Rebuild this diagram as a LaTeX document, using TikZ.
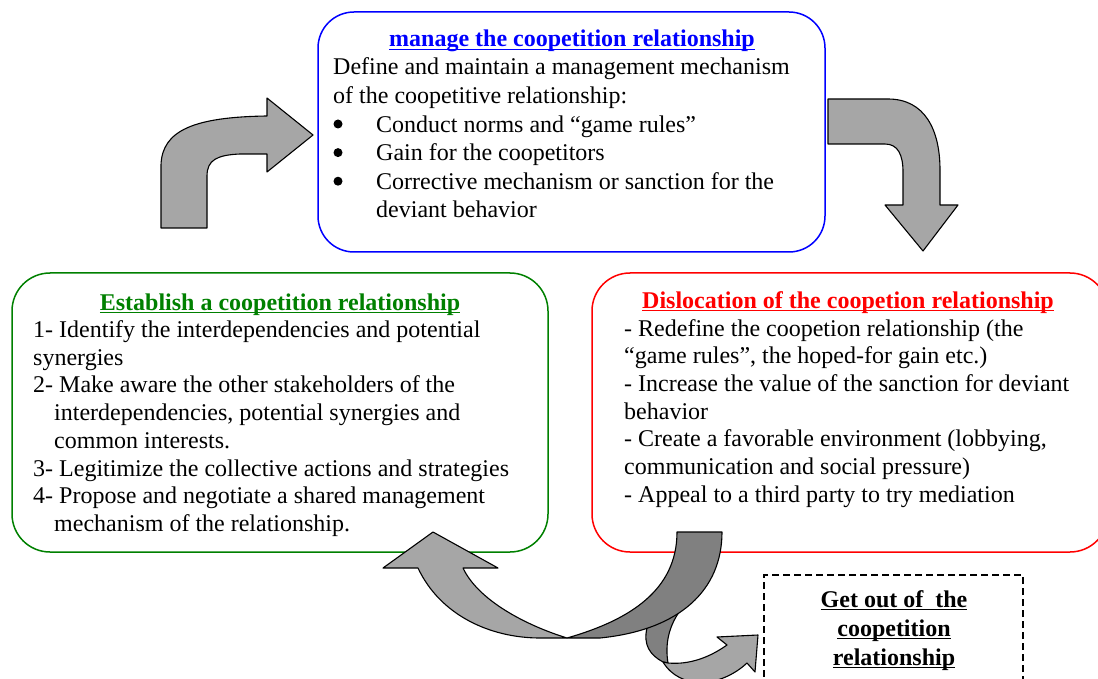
\documentclass[tikz,border=0pt]{standalone}
\usepackage{fontspec}
\setmainfont{Liberation Serif}
\newcommand\myul[1]{\mbox{\setbox0=\hbox{#1}\rlap{\rule[-3.4pt]{\wd0}{1.8pt}}\box0}}
\definecolor{mygreen}{RGB}{0,128,0}
\begin{document}
\begin{tikzpicture}[x=1pt,y=-1pt,
  font=\fontsize{24}{28}\selectfont,
  box/.style={draw, line width=1.5pt, rounded corners=36pt, inner sep=0pt},
  txtline/.style={anchor=base west, inner sep=0pt},
  ttl/.style={anchor=base, inner sep=0pt, font=\fontsize{24}{28}\selectfont\bfseries},
  bulletdot/.style={circle, fill=black, minimum size=9pt, inner sep=0pt},
  lightarrow/.style={draw=black, line width=1.1pt, line join=round, fill=black!35},
  darkarrow/.style={draw=black, line width=1.1pt, line join=round, fill=black!50}]
\useasboundingbox (0,0) rectangle (1098,679);

% boxes
\node[box, draw=blue, minimum width=507pt, minimum height=240pt] (mgmt) at (571.5,132) {};
\node[box, draw=mygreen, rounded corners=38pt, minimum width=536pt, minimum height=279pt] (estab) at (280,412.5) {};
\node[box, draw=red, rounded corners=38pt, minimum width=516pt, minimum height=279pt] (disl) at (850,412.5) {};
\node[draw, line width=1.2pt, dash pattern=on 7pt off 4pt, minimum width=259pt, minimum height=135pt, inner sep=0pt] (out) at (893.5,642.5) {};

% top box text
\node[ttl, text=blue] (mgmtT) at (572,47) {\myul{manage the coopetition relationship}};
\node[txtline] (m1) at (333,75) {Define and maintain a management mechanism};
\node[txtline] (m2) at (333,103.6) {of the coopetitive relationship:};
\foreach \t [count=\i] in {{Conduct norms and “game rules”},{Gain for the coopetitors},{Corrective mechanism or sanction for the},{deviant behavior}}
  \node[txtline] (mb\i) at (376,{132.2+28.6*(\i-1)}) {\t};
\foreach \i in {1,2,3}
  \node[bulletdot] (bul\i) at (338,{124+28.6*(\i-1)}) {};

% green box text
\node[ttl, text=mygreen] (estabT) at (280,310) {\myul{Establish a coopetition relationship}};
\foreach \dx/\t [count=\i] in {0/{1- Identify the interdependencies and potential},0/{synergies},0/{2- Make aware the other stakeholders of the},21/{interdependencies, potential synergies and},21/{common interests.},0/{3- Legitimize the collective actions and strategies},0/{4- Propose and negotiate a shared management},21/{mechanism of the relationship.}}
  \node[txtline] (e\i) at ({33+\dx},{337.5+27.7*(\i-1)}) {\t};

% red box text
\node[ttl, text=red] (dislT) at (848,308) {\myul{Dislocation of the coopetion relationship}};
\foreach \t [count=\i] in {{- Redefine the coopetion relationship (the},{“game rules”, the hoped-for gain etc.)},{- Increase the value of the sanction for deviant},{behavior},{- Create a favorable environment (lobbying,},{communication and social pressure)},{- Appeal to a third party to try mediation}}
  \node[txtline] (d\i) at (624,{336+27.7*(\i-1)}) {\t};

% exit box text
\node[ttl] (out1) at (894,607) {\myul{Get out of \ the}};
\node[ttl] (out2) at (894,636) {\myul{coopetition}};
\node[ttl] (out3) at (894,665) {\myul{relationship}};

% top-left bent arrow
\draw[lightarrow] (161,228) -- (161,165) .. controls (162,130) and (195,117) .. (267,116)
  -- (267,98) -- (313,135) -- (267,172) -- (267,154) -- (240,154)
  .. controls (217,155) and (207,160) .. (207,176) -- (207,228) -- cycle;

% top-right bent arrow
\draw[lightarrow] (828,99) -- (888,99) .. controls (925,99) and (940,130) .. (940,170)
  -- (940,205) -- (958,205) -- (923,251) -- (885,205) -- (903,205) -- (903,172)
  .. controls (903,155) and (898,144) .. (885,144) -- (828,144) -- cycle;

% twisted ribbon
\draw[darkarrow] (647,628) .. controls (643,645) and (650,655) .. (663,662)
  -- (668,663) .. controls (665,645) and (668,625) .. (683,607) -- cycle;

% dark arrow from dislocation
\draw[darkarrow] (677,532) -- (722,532) .. controls (722,590) and (680,630) .. (600,638)
  -- (567,638) .. controls (630,620) and (677,590) .. (677,532) -- cycle;

% light arrow back to establish
\draw[lightarrow] (567,638) -- (540,638) .. controls (490,638) and (440,615) .. (418,568)
  -- (383,568) -- (433,532) -- (498,568) -- (463,568)
  .. controls (478,600) and (525,625) .. (567,638) -- cycle;

% light arrow to exit
\draw[lightarrow] (663,662) .. controls (680,690) and (720,688) .. (747,663)
  -- (755,672) -- (758,635) -- (717,637) -- (727,645)
  .. controls (710,657) and (690,665) .. (668,663) -- cycle;
\end{tikzpicture}
\end{document}
